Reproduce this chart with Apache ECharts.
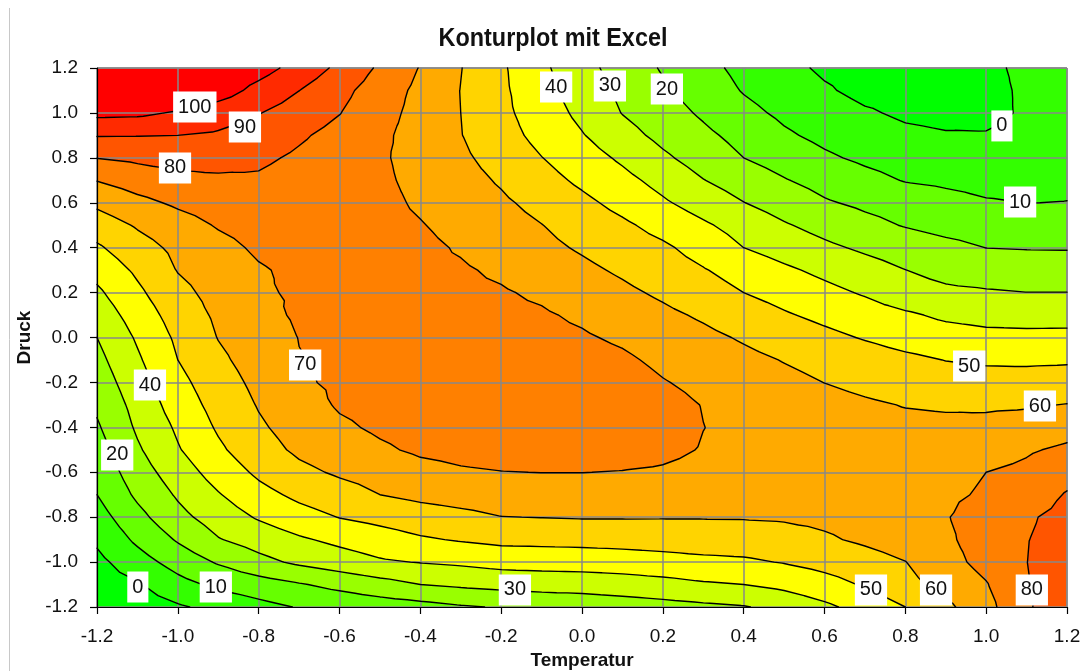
<!DOCTYPE html>
<html>
<head>
<meta charset="utf-8">
<script src="https://cdn.jsdelivr.net/npm/echarts@6/dist/echarts.min.js"></script>
<style>
  html, body { margin: 0; padding: 0; background: #ffffff; }
  #chart { width: 1092px; height: 671px; }
</style>
</head>
<body>
<div id="chart"></div>
<script>
// Stützstellen des Messgitters (Temperatur waagerecht, Druck senkrecht, von oben nach unten)
const temperatur = [-1.2, -1.1, -1.0, -0.9, -0.8, -0.7, -0.6, -0.5, -0.4, -0.3, -0.2, -0.1, 0.0,
                     0.1, 0.2, 0.3, 0.4, 0.5, 0.6, 0.7, 0.8, 0.9, 1.0, 1.1, 1.2];
const druck = [1.2, 1.1, 1.0, 0.9, 0.8, 0.7, 0.6, 0.5, 0.4, 0.3, 0.2, 0.1, 0.0,
               -0.1, -0.2, -0.3, -0.4, -0.5, -0.6, -0.7, -0.8, -0.9, -1.0, -1.1, -1.2];

// Messwerte: eine Zeile je Druckstufe (gleiche Reihenfolge wie "druck")
const messwerte = [
  [115, 114, 112, 109, 104, 96.4, 87.8, 78.5, 69.5, 60.3, 51.5, 42, 33.3, 25.9, 19.1, 12.9, 7.4, 2.7, -1.5, -3.5, -4.5, -4, -1.2, 1.2, 3],
  [113, 112, 110, 105, 96.9, 90.1, 82.8, 75.3, 67.6, 59.8, 51.9, 43.3, 35.2, 27.9, 21.6, 15.3, 9.4, 5.3, 1.1, -2.5, -3.5, -3.5, -1.8, 1, 2.5],
  [102.5, 102, 99, 94.7, 90.4, 85.4, 80.3, 73.6, 66.8, 60, 52.4, 45.1, 37.6, 29.7, 24.2, 18.6, 12.7, 8.1, 4.6, 1.1, -1.5, -2.5, -2, 1, 3.5],
  [90.5, 90.3, 90, 88.7, 85.5, 81.3, 76.9, 71.9, 66.3, 60.3, 53.7, 47.2, 40.6, 33.6, 27.4, 22.1, 16.8, 11.4, 7.6, 4.5, 1.9, 0.7, 0.5, 2, 3.5],
  [80.2, 81.9, 83.6, 83.2, 81.8, 78.5, 74.9, 71.2, 66.7, 61.8, 56.2, 50.2, 44.4, 38.4, 31.7, 25.7, 20, 15.8, 11.5, 8.2, 5.7, 4.5, 3.8, 4.5, 5],
  [70.3, 74.5, 77.4, 78.5, 78.7, 76, 74, 71.7, 67.5, 63.4, 59, 53.6, 48.1, 42.8, 36.8, 30.3, 25.4, 20.6, 16.7, 13, 9.5, 8.2, 7.1, 7, 8],
  [62, 67.4, 71.6, 74.6, 76, 76, 75, 72.5, 68.7, 65.1, 61.5, 57.2, 52.3, 47, 41.3, 35.7, 30.2, 25.6, 21, 18.1, 15.7, 13.2, 10.8, 9.9, 10.2],
  [55, 61, 65.9, 70.8, 73.7, 75, 74.5, 73, 70.5, 67.1, 63.7, 60.2, 56, 51.7, 46.7, 41.4, 36.1, 30.9, 26.7, 22.8, 19.4, 16.8, 15.3, 14.9, 15.2],
  [48.6, 56.1, 62.3, 67, 71.5, 74, 74.5, 73.5, 72, 69.2, 65.8, 62.4, 58.9, 55.2, 51.6, 46.3, 40, 35.9, 31.9, 28.4, 25.5, 22.7, 19.9, 19.5, 19.4],
  [43.2, 51.7, 60.4, 64.8, 69.1, 72, 73, 73, 72, 71, 68.6, 65.4, 62.1, 58.6, 54.6, 50.6, 46.2, 41.7, 37.7, 33.9, 30.1, 27.3, 25.5, 24.8, 24.6],
  [38.2, 48.1, 57.3, 63.3, 69, 71, 72.5, 73, 72.5, 71.8, 70.8, 68.6, 65.3, 62, 58.4, 54.2, 50, 46.5, 42.7, 39, 33.8, 31.7, 30.9, 30.1, 30.1],
  [34, 44.5, 54.4, 61.7, 67.3, 71.2, 72, 72.5, 73, 72.8, 72, 71, 68.6, 65.4, 62.1, 58.7, 54.8, 51, 47.7, 44.6, 41.5, 38.2, 36.8, 36.4, 36.4],
  [30, 41.2, 51.8, 60.3, 65.2, 70.2, 71.5, 72.5, 73.5, 74, 73.5, 72.5, 71, 68.6, 65.4, 62.3, 59, 55.7, 52.4, 49.3, 46.3, 44.3, 42.7, 42.4, 42.6],
  [27.2, 38.6, 50, 58.2, 64, 69.7, 71.5, 72.5, 73.5, 74.5, 75, 74.5, 73.5, 71.5, 68.1, 65.3, 62.4, 59.6, 57.1, 54.6, 52.1, 49.8, 48.7, 48.5, 48.8],
  [24.4, 36, 47.2, 55.7, 62.4, 68.8, 71.5, 73, 74, 75, 75.5, 75.5, 75, 74, 70.5, 67.8, 65.2, 62.5, 59.9, 57.5, 55.4, 54.1, 53.6, 53.6, 54.5],
  [21.6, 33.4, 44.5, 53.6, 60.6, 65.8, 71, 73, 74.5, 75.5, 76, 76.5, 76, 75, 73, 69.7, 67.6, 65.5, 63.5, 61.4, 59.6, 59, 58.7, 59.1, 60.3],
  [18.8, 31.4, 41.5, 51.2, 58.7, 63.8, 68.4, 71.5, 73.5, 75, 76, 76.5, 76.5, 76, 74, 70.1, 68, 66, 64.5, 63.3, 62.5, 62, 62.5, 64, 66.5],
  [15.9, 28.7, 39.2, 48.3, 56.2, 61.7, 65.1, 68.6, 71.5, 72.5, 73.5, 74, 74, 73.5, 72, 69.5, 68, 66.5, 65.5, 65, 65, 66, 66.3, 69, 71.6],
  [13, 25.4, 35.1, 44.1, 51.8, 57.7, 61.3, 63.5, 67, 69, 69.8, 70.1, 70.1, 69.7, 69, 67.5, 66.5, 65.8, 65.5, 65.5, 66, 67.5, 70, 71.9, 76.2],
  [10, 21.8, 31.2, 39.3, 46.8, 52.2, 56.1, 60, 62.3, 63.7, 64.9, 65.2, 65.5, 65.1, 64.4, 64, 64, 64.5, 65, 66, 67, 68.5, 71, 74, 80.8],
  [5.8, 17, 27.1, 34.6, 41, 46.1, 50.3, 52.9, 55.6, 57.6, 59.8, 60.2, 60.6, 60.6, 60.5, 60.5, 60.6, 61, 62, 63.5, 65.5, 69.5, 74, 78.8, 83],
  [1.6, 11.9, 21, 29.4, 34.2, 38.7, 42.3, 45.5, 48.8, 50.8, 52.4, 52.7, 53, 53.5, 54.1, 54.9, 55.1, 56.5, 58.8, 61.5, 64.5, 68.5, 74, 79.7, 83.5],
  [-2.6, 5.8, 13.9, 21, 27.1, 31.8, 35.3, 38.8, 40.4, 41.7, 43.5, 44, 44.4, 45.2, 46.4, 47.7, 48.5, 50.5, 53.2, 56.2, 59.8, 66.7, 73, 79.9, 85],
  [-5, -1, 6.7, 12.1, 15.6, 19.2, 22.8, 26.4, 30, 31.7, 33.1, 34, 34.3, 35.3, 36.8, 38.8, 40, 42.5, 46.4, 50.9, 57, 63.3, 69.4, 79.5, 85],
  [-8, -5, -1.2, 2.9, 7, 10.6, 12.7, 14.8, 16.5, 19, 20.7, 22.2, 23.6, 25.1, 26.5, 28, 29.4, 33, 38, 43.8, 50, 57.8, 66.8, 78.9, 86]
];

// Höhenlinien und Farben der Bänder (unter 0, 0-10, ..., 90-100, über 100)
const hoehenstufen = [0, 10, 20, 30, 40, 50, 60, 70, 80, 90, 100];
const bandfarben = ['#00ff00', '#33ff00', '#66ff00', '#99ff00', '#ccff00', '#ffff00',
                    '#ffd400', '#ffaa00', '#ff8000', '#ff5500', '#ff2a00', '#ff0000'];

// Achsenbeschriftungen
const achsenTicks = ['-1.2', '-1.0', '-0.8', '-0.6', '-0.4', '-0.2', '0.0', '0.2', '0.4', '0.6', '0.8', '1.0', '1.2'];

// Beschriftete Höhenlinien: [Stufe, Temperatur, Druck] (Lage der Marke)
const linienmarken = [
  [100, -0.958, 1.026], [90, -0.834, 0.937], [80, -1.007, 0.755],
  [40, -0.064, 1.115], [30, 0.069, 1.12], [20, 0.21, 1.106],
  [0, 1.039, 0.942], [10, 1.084, 0.603],
  [70, -0.685, -0.122], [40, -1.069, -0.212], [20, -1.15, -0.523],
  [50, 0.958, -0.127], [60, 1.133, -0.305],
  [0, -1.099, -1.111], [10, -0.906, -1.111], [30, -0.166, -1.124],
  [50, 0.715, -1.124], [60, 0.876, -1.124], [80, 1.113, -1.124]
];

const SCHRIFT = "'Liberation Sans', Arial, Helvetica, sans-serif";
const tickMin = parseFloat(achsenTicks[0]);
const tickMax = parseFloat(achsenTicks[achsenTicks.length - 1]);
const tickStep = parseFloat(achsenTicks[1]) - tickMin;
const tickText = v => achsenTicks[Math.round((v - tickMin) / tickStep)] ?? '';

// Gitterpunkte in Pixel umrechnen und in Dreiecke zerlegen (je Zelle 4 Dreiecke um die Mitte)
function dreiecke(api) {
  const pts = druck.map((d, i) => temperatur.map((t, j) => {
    const p = api.coord([t, d]);
    return { x: p[0], y: p[1], v: messwerte[i][j] };
  }));
  const tris = [];
  for (let i = 0; i < druck.length - 1; i++) {
    for (let j = 0; j < temperatur.length - 1; j++) {
      const a = pts[i][j], b = pts[i][j + 1], c = pts[i + 1][j + 1], d = pts[i + 1][j];
      const m = { x: (a.x + b.x + c.x + d.x) / 4, y: (a.y + b.y + c.y + d.y) / 4, v: (a.v + b.v + c.v + d.v) / 4 };
      tris.push([a, b, m], [b, c, m], [c, d, m], [d, a, m]);
    }
  }
  return tris;
}

function clip(poly, lvl, keepAbove) {
  const out = [];
  const inside = p => keepAbove ? p.v >= lvl : p.v <= lvl;
  for (let k = 0; k < poly.length; k++) {
    const a = poly[k], b = poly[(k + 1) % poly.length];
    const ia = inside(a), ib = inside(b);
    if (ia) out.push(a);
    if (ia !== ib) {
      const t = (lvl - a.v) / (b.v - a.v);
      out.push({ x: a.x + t * (b.x - a.x), y: a.y + t * (b.y - a.y), v: lvl });
    }
  }
  return out;
}

function bandVon(v) {
  let b = 0;
  while (b < hoehenstufen.length && v >= hoehenstufen[b]) b++;
  return b;
}

function polyPfad(poly) {
  let s = 'M' + poly[0].x.toFixed(2) + ' ' + poly[0].y.toFixed(2);
  for (let k = 1; k < poly.length; k++) s += 'L' + poly[k].x.toFixed(2) + ' ' + poly[k].y.toFixed(2);
  return s + 'Z';
}

// Farbflächen: je Band ein gemeinsamer Pfad
function renderFlaechen(params, api) {
  const pfade = bandfarben.map(() => []);
  for (const tri of dreiecke(api)) {
    const vs = tri.map(p => p.v);
    const b0 = bandVon(Math.min(...vs)), b1 = bandVon(Math.max(...vs));
    for (let b = b0; b <= b1; b++) {
      let poly = tri;
      if (b > 0) poly = clip(poly, hoehenstufen[b - 1], true);
      if (poly.length >= 3 && b < hoehenstufen.length) poly = clip(poly, hoehenstufen[b], false);
      if (poly.length >= 3) pfade[b].push(polyPfad(poly));
    }
  }
  return {
    type: 'group',
    children: pfade.map((p, b) => ({
      type: 'path',
      shape: { pathData: p.join('') || 'M0 0Z' },
      style: { fill: bandfarben[b], stroke: null }
    }))
  };
}

// Höhenlinien und ihre Beschriftung
function renderLinien(params, api) {
  const segmente = hoehenstufen.map(() => []);
  for (const tri of dreiecke(api)) {
    hoehenstufen.forEach((lvl, n) => {
      const pts = [];
      for (let k = 0; k < 3; k++) {
        const a = tri[k], b = tri[(k + 1) % 3];
        if ((a.v < lvl) !== (b.v < lvl)) {
          const t = (lvl - a.v) / (b.v - a.v);
          pts.push([a.x + t * (b.x - a.x), a.y + t * (b.y - a.y)]);
        }
      }
      if (pts.length === 2) segmente[n].push(pts);
    });
  }
  const children = [];
  let pfad = '';
  segmente.forEach(list => list.forEach(([p, q]) => {
    pfad += 'M' + p[0].toFixed(2) + ' ' + p[1].toFixed(2) + 'L' + q[0].toFixed(2) + ' ' + q[1].toFixed(2);
  }));
  children.push({
    type: 'path',
    shape: { pathData: pfad },
    style: { fill: null, stroke: '#000000', lineWidth: 1.4, lineCap: 'round', lineJoin: 'round' }
  });
  for (const [lvl, t, d] of linienmarken) {
    const p = api.coord([t, d]);
    children.push({
      type: 'text',
      x: p[0], y: p[1],
      style: {
        text: String(lvl), fontFamily: SCHRIFT, fontSize: 20, lineHeight: 21, fill: '#111111',
        align: 'center', verticalAlign: 'middle',
        backgroundColor: '#ffffff', padding: [5, 5, 5, 5]
      }
    });
  }
  return { type: 'group', children };
}

const achse = {
  type: 'value', min: tickMin, max: tickMax, interval: tickStep,
  axisLine: { show: true, onZero: false, lineStyle: { color: '#000000', width: 1.2 } },
  axisTick: { show: true, inside: false, length: 7, lineStyle: { color: '#000000', width: 1.2 } },
  splitLine: { show: true, lineStyle: { color: '#888888', width: 1.5 } },
  axisLabel: { fontFamily: SCHRIFT, fontSize: 19, color: '#111111', formatter: tickText },
  nameLocation: 'middle',
  nameTextStyle: { fontFamily: SCHRIFT, fontSize: 19, fontWeight: 'bold', color: '#111111' }
};

const chart = echarts.init(document.getElementById('chart'), null, { renderer: 'canvas' });
chart.setOption({
  backgroundColor: '#ffffff',
  animation: false,
  grid: { left: 97, right: 25, top: 68, bottom: 64, containLabel: false, outerBoundsMode: 'none' },
  xAxis: Object.assign({}, achse, {
    name: 'Temperatur', nameGap: 41,
    axisLabel: Object.assign({}, achse.axisLabel, { margin: 20 })
  }),
  yAxis: Object.assign({}, achse, {
    name: 'Druck', nameGap: 48, nameRotate: 90,
    axisLabel: Object.assign({}, achse.axisLabel, { margin: 19 })
  }),
  graphic: [
    {
      type: 'line', shape: { x1: 9.5, y1: 8, x2: 9.5, y2: 671 },
      style: { stroke: '#c8c8c8', lineWidth: 1 }, silent: true
    },
    {
      // Diagrammtitel, etwas schmal laufend
      type: 'text', x: 553, y: 39, scaleX: 0.9, silent: true,
      style: {
        text: 'Konturplot mit Excel', fontFamily: SCHRIFT, fontSize: 26, fontWeight: 'bold',
        fill: '#111111', align: 'center', verticalAlign: 'middle'
      }
    }
  ],
  series: [
    { type: 'custom', coordinateSystem: 'cartesian2d', z: -1, silent: true, clip: true,
      data: [[0, 0]], renderItem: renderFlaechen },
    { type: 'custom', coordinateSystem: 'cartesian2d', z: 5, silent: true, clip: false,
      data: [[0, 0]], renderItem: renderLinien }
  ]
});
</script>
</body>
</html>
